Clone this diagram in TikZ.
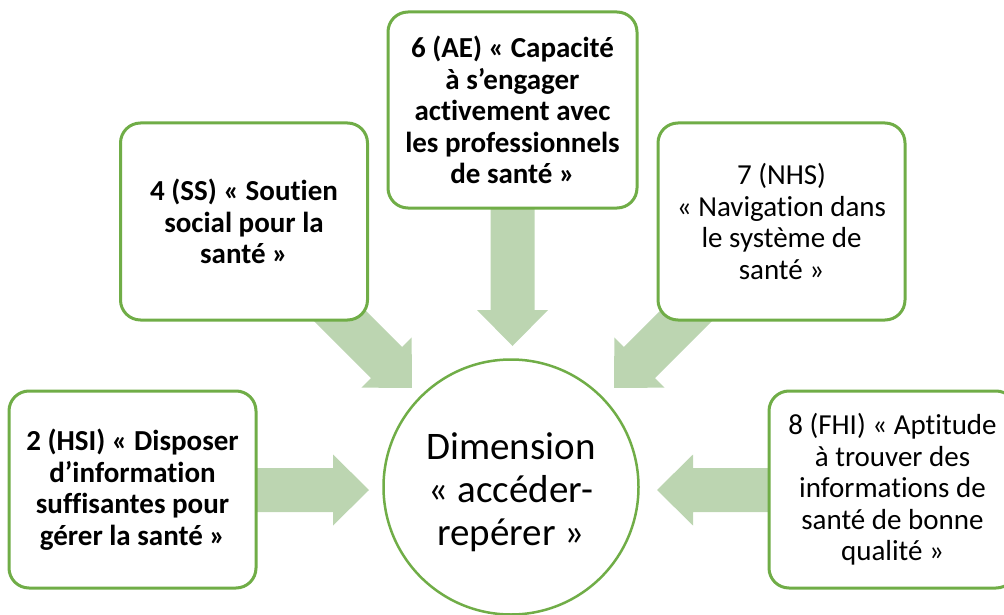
\documentclass[tikz,border=0pt]{standalone}
\usepackage{fontspec}
\setmainfont{Carlito}[Ligatures=NoCommon]
\definecolor{boxgreen}{RGB}{112,173,71}
\definecolor{arrowgreen}{RGB}{188,213,177}
\tikzset{
  box/.style={draw=boxgreen, line width=3pt, fill=white, rounded corners=20pt,
    minimum width=247pt, minimum height=197pt, align=center, inner sep=0pt,
    font=\fontsize{29}{31.5}\selectfont},
  boldbox/.style={box, font=\fontsize{29}{31.5}\selectfont\bfseries},
  hub/.style={circle, draw=boxgreen, line width=2.5pt, fill=white,
    minimum size=255pt, inner sep=0pt},
  hubtext/.style={align=center, inner sep=0pt, font=\fontsize{39}{43}\selectfont},
  fatarrow/.style={fill=arrowgreen, draw=none}
}
\newcommand\blockarrow[3]{%
  \begin{scope}[shift={(#1)}, rotate=-#2]
    \fill[fatarrow] (0,-22) -- ({#3-36},-22) -- ({#3-36},-35.5) -- (#3,0)
      -- ({#3-36},35.5) -- ({#3-36},22) -- (0,22) -- cycle;
  \end{scope}}
\begin{document}
\begin{tikzpicture}[x=1pt, y=-1pt]
\useasboundingbox (0,0) rectangle (1004,615);
\clip (0,0) rectangle (1004,615);
% positions
\coordinate (p2) at (132.5,489.5);
\coordinate (p4) at (244,221.5);
\coordinate (p6) at (512.5,110);
\coordinate (p7) at (781.5,221.5);
\coordinate (p8) at (892.5,489.5);
\coordinate (ph) at (511,487);
% arrow tails
\coordinate (a2) at (256,490);
\coordinate (a4) at (314.4,290.4);
\coordinate (a6) at (512.5,208);
\coordinate (a7) at (711.6,290.4);
\coordinate (a8) at (769,490);
% arrows (drawn first, under the boxes)
\blockarrow{a2}{0}{113}
\blockarrow{a4}{45}{138}
\blockarrow{a6}{90}{138}
\blockarrow{a7}{135}{138}
\blockarrow{a8}{180}{112}
% boxes
\node[boldbox] (b2) at (p2) {2 (HSI) « Disposer\\d’information\\suffisantes pour\\gérer la santé »};
\node[boldbox] (b4) at (p4) {4 (SS) « Soutien\\social pour la\\santé »};
\node[boldbox, minimum height=196pt, minimum width=249pt] (b6) at (p6) {6 (AE) « Capacité\\à s’engager\\activement avec\\les professionnels\\de santé »};
\node[box] (b7) at (p7) {7 (NHS)\\« Navigation dans\\le système de\\santé »};
\node[box] (b8) at (p8) {8 (FHI) « Aptitude\\à trouver des\\informations de\\santé de bonne\\qualité »};
\node[hub] (hub) at (ph) {};
\node[hubtext] (hubt) at ([yshift=-5pt]hub.center) {Dimension\\« accéder-\\repérer »};
\end{tikzpicture}
\end{document}
